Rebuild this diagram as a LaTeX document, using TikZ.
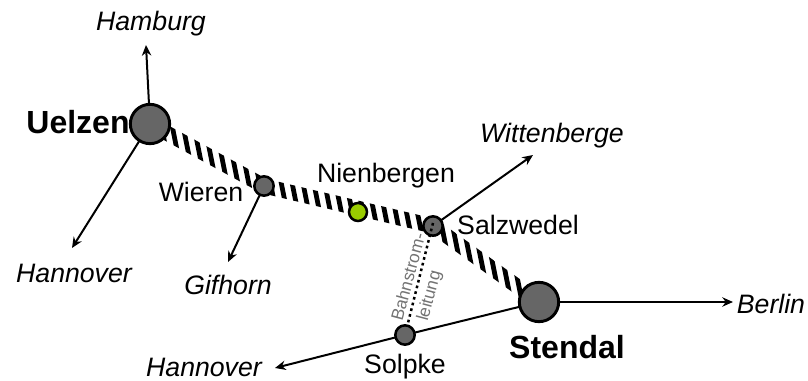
\documentclass[tikz,border=0pt]{standalone}
\usepackage{fontspec}
\setmainfont{Liberation Sans}
\usetikzlibrary{arrows.meta,calc}
\definecolor{stationgrey}{HTML}{666666}
\definecolor{stationlime}{HTML}{99CC00}
\tikzset{
  x=0.75pt,y=-0.75pt,
  stationbig/.style={circle,draw=black,line width=2.2pt,fill=stationgrey,minimum size=29.5pt,inner sep=0pt},
  stationsmall/.style={circle,draw=black,line width=1.9pt,fill=stationgrey,minimum size=14.5pt,inner sep=0pt},
  stationgreen/.style={stationsmall,fill=stationlime,minimum size=13.5pt},
  branch/.style={draw=black,line width=1.5pt,-{Stealth[length=8pt,width=7pt]}},
  plainline/.style={draw=black,line width=1.5pt},
  stripe/.style={draw=black,line width=3.6pt},
  feeder/.style={draw=black,line width=1.9pt,dash pattern=on 2pt off 2.4pt},
  place/.style={font=\fontsize{20}{24}\selectfont\itshape,inner sep=0pt},
  stop/.style={font=\fontsize{20}{24}\selectfont,inner sep=0pt},
  hub/.style={font=\fontsize{24}{28}\selectfont\bfseries,inner sep=0pt},
  vlabel/.style={font=\fontsize{13}{14}\selectfont,text=black!55,inner sep=0pt,rotate=75}
}
\begin{document}
\begin{tikzpicture}
\useasboundingbox (0,0) rectangle (808,381);
\coordinate (uc) at (150,124);
\coordinate (wc) at (264,186);
\coordinate (nc) at (358,212);
\coordinate (sc) at (433,226);
\coordinate (stc) at (539,302);
\coordinate (soc) at (405,335);
\coordinate (ft) at (433,223);
\node[place] (hamburg) at (151,24) {Hamburg};
\node[place] (hann1) at (74,273) {Hannover};
\node[place] (gifhorn) at (228,285) {Gifhorn};
\node[place] (witt) at (552,136) {Wittenberge};
\node[place] (berlin) at (771,304) {Berlin};
\node[place] (hann2) at (204,367) {Hannover};
\coordinate (ah) at (146,45);
\coordinate (ahan) at (72,248);
\coordinate (ag) at (228,262);
\coordinate (aw) at (533,155);
\coordinate (ab) at (733,302);
\coordinate (ah2) at (275,368);
% electrified line: a band filled with near-vertical stripes
\begin{scope}
\clip
  ($(uc)!5.6pt!90:(wc)$) -- ($(wc)!5.6pt!-90:(uc)$) -- ($(wc)!5.6pt!90:(uc)$) -- ($(uc)!5.6pt!-90:(wc)$) -- cycle
  ($(wc)!5.6pt!90:(sc)$) -- ($(sc)!5.6pt!-90:(wc)$) -- ($(sc)!5.6pt!90:(wc)$) -- ($(wc)!5.6pt!-90:(sc)$) -- cycle
  ($(sc)!5.6pt!90:(stc)$) -- ($(stc)!5.6pt!-90:(sc)$) -- ($(stc)!5.6pt!90:(sc)$) -- ($(sc)!5.6pt!-90:(stc)$) -- cycle;
\foreach \k in {-4,...,34}
  \draw[stripe] ({187+10.85*\k-20},100) -- ({187+10.85*\k+24},320);
\end{scope}
\draw[branch] (uc) -- (ah);
\draw[branch] (uc) -- (ahan);
\draw[branch] (wc) -- (ag);
\draw[branch] (sc) -- (aw);
\draw[branch] (stc) -- (ab);
\draw[plainline] (stc) -- (soc);
\draw[branch] (soc) -- (ah2);
\node[stationbig] (uelzen) at (uc) {};
\node[stationsmall] (wieren) at (wc) {};
\node[stationgreen] (nien) at (nc) {};
\node[stationsmall] (salz) at (sc) {};
\node[stationbig] (stendal) at (stc) {};
\draw[feeder] (ft) -- (soc);
\node[stationsmall] (solpke) at (soc) {};
\node[hub] (lu) at (78,122) {Uelzen};
\node[hub] (ls) at (567,347) {Stendal};
\node[stop] (lw) at (201,192) {Wieren};
\node[stop] (ln) at (386,176) {Nienbergen};
\node[stop] (lsa) at (518,225) {Salzwedel};
\node[stop] (lso) at (405,367) {Solpke};
\node[vlabel] (lb1) at (408,277) {Bahnstrom-};
\node[vlabel] (lb2) at (430,296) {leitung};
\end{tikzpicture}
\end{document}
